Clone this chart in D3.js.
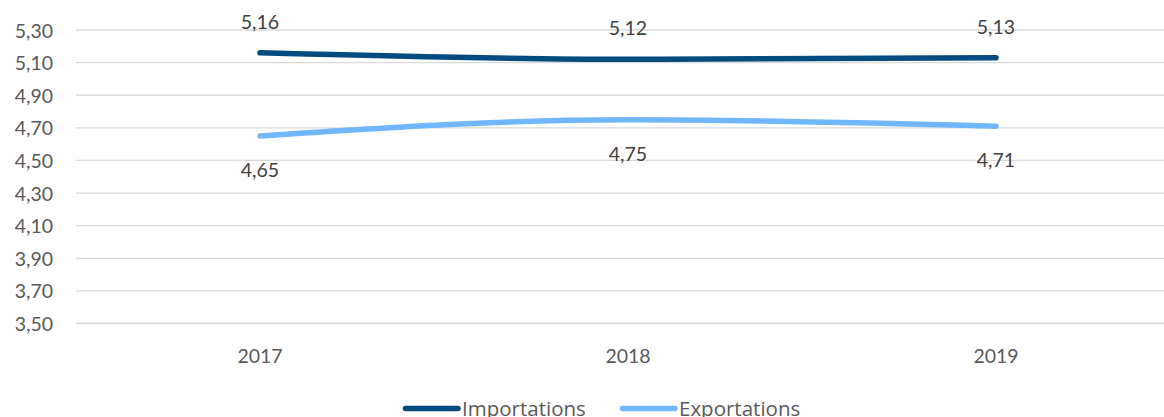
<!DOCTYPE html>
<html>
<head>
<meta charset="utf-8">
<script src="https://cdn.jsdelivr.net/npm/d3@7"></script>
<style>
  body { margin: 0; background: #fff; }
  svg text { font-family: Lato, "Open Sans", sans-serif; fill: #595959; }
</style>
</head>
<body>
<script>
'use strict';

// chart data
const years = ['2017', '2018', '2019'];
const importations = [5.16, 5.12, 5.13];
const exportations = [4.65, 4.75, 4.71];
const yTicks = [3.50, 3.70, 3.90, 4.10, 4.30, 4.50, 4.70, 4.90, 5.10, 5.30];
const seriesNames = ['Importations', 'Exportations'];

(function () {
  const width = 1164, height = 417;
  const colors = ['#004c80', '#70b7fe'];

  const svg = d3.select('body').append('svg')
    .attr('width', width)
    .attr('height', height);

  // french number format
  const fr = d3.formatLocale({ decimal: ',', thousands: ' ', grouping: [3], currency: ['', ' €'] });
  const fmt = fr.format('.2f');

  const xScale = d3.scaleBand().domain(years).range([76, 1180]).paddingInner(0).paddingOuter(0);
  const xPos = (d) => xScale(d) + xScale.bandwidth() / 2;

  const yScale = d3.scaleLinear().domain([3.5, 5.3]).range([323.5, 30]);

  // gridlines
  svg.append('g')
    .selectAll('line')
    .data(yTicks)
    .enter()
    .append('line')
    .attr('x1', 76)
    .attr('x2', width)
    .attr('y1', (d) => yScale(d))
    .attr('y2', (d) => yScale(d))
    .attr('stroke', '#d9d9d9')
    .attr('stroke-width', 1.3);

  // y axis
  const yAxis = d3.axisLeft(yScale).tickValues(yTicks).tickFormat(fmt).tickSize(0).tickPadding(0);
  const yG = svg.append('g')
    .attr('transform', 'translate(53, 0)')
    .call(yAxis);
  yG.select('.domain').remove();
  yG.selectAll('text')
    .attr('dy', null)
    .attr('y', 7)
    .style('font-size', '19.5px')
    .style('font-family', 'Lato, sans-serif')
    .attr('fill', '#595959');

  // x axis
  const xAxis = d3.axisBottom(xScale).tickSize(0).tickPadding(0);
  const xG = svg.append('g')
    .call(xAxis);
  xG.select('.domain').remove();
  xG.selectAll('text')
    .attr('dy', null)
    .attr('y', 362.5)
    .style('font-size', '19.5px')
    .style('font-family', 'Lato, sans-serif')
    .attr('fill', '#595959');

  // lines
  const series = [importations, exportations];
  const valueLine = d3.line()
    .x((d, i) => xPos(years[i]))
    .y((d) => yScale(d))
    .curve(d3.curveMonotoneX);

  svg.append('g')
    .selectAll('path')
    .data(series)
    .enter()
    .append('path')
    .attr('d', (d) => valueLine(d))
    .attr('fill', 'none')
    .attr('stroke', (d, i) => colors[i])
    .attr('stroke-width', 5.5)
    .attr('stroke-linecap', 'round')
    .attr('stroke-linejoin', 'round');

  // data labels: importations above, exportations below
  const labelOffsets = [-24, 41];
  series.forEach((vals, s) => {
    svg.append('g')
      .selectAll('text')
      .data(vals)
      .enter()
      .append('text')
      .attr('x', (d, i) => xPos(years[i]))
      .attr('y', (d) => yScale(d) + labelOffsets[s])
      .attr('text-anchor', 'middle')
      .style('font-size', '19.5px')
      .style('fill', '#404040')
      .text((d) => fmt(d));
  });

  // legend
  const legend = svg.append('g');
  const legendStarts = [403, 620];
  seriesNames.forEach((name, i) => {
    const x0 = legendStarts[i];
    legend.append('line')
      .attr('x1', x0 + 2.5)
      .attr('x2', x0 + 55)
      .attr('y1', 408.5)
      .attr('y2', 408.5)
      .attr('stroke', colors[i])
      .attr('stroke-width', 5.5)
      .attr('stroke-linecap', 'round');
    legend.append('text')
      .attr('x', x0 + 59)
      .attr('y', 415.5)
      .style('font-size', '20.5px')
      .style('font-family', '"Open Sans", sans-serif')
      .text(name);
  });
})();
</script>
</body>
</html>
